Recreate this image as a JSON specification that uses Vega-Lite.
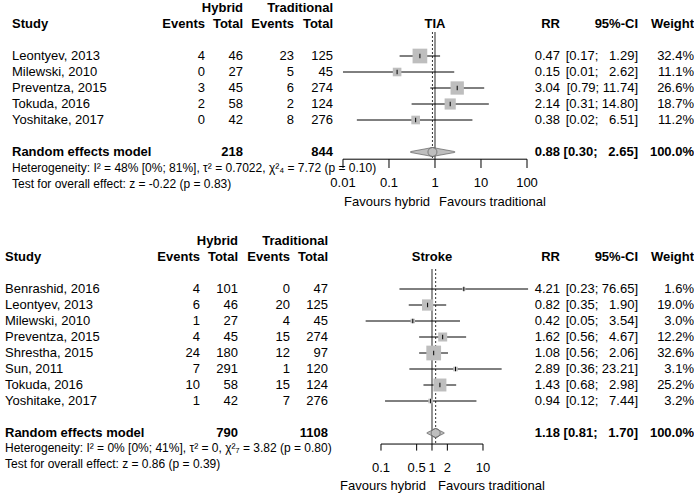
{
"$schema": "https://vega.github.io/schema/vega-lite/v6.json",
"padding": 0,
"background": "white",
"config": {"font": "Liberation Sans", "view": {"stroke": null}, "text": {"fontSize": 13, "color": "black"}, "axis": {"disable": true}, "point": {"opacity": 1}},
"datasets": {
 "tia": [
  {"study":"Leontyev, 2013","eh":4,"nh":46,"et":23,"nt":125,"rr":0.47,"lo":0.17,"hi":1.29,"ci":"[0.17; \u20071.29]","w":0.324,"line":3},
  {"study":"Milewski, 2010","eh":0,"nh":27,"et":5,"nt":45,"rr":0.15,"lo":0.01,"hi":2.62,"ci":"[0.01; \u20072.62]","w":0.111,"line":4},
  {"study":"Preventza, 2015","eh":3,"nh":45,"et":6,"nt":274,"rr":3.04,"lo":0.79,"hi":11.74,"ci":"[0.79; 11.74]","w":0.266,"line":5},
  {"study":"Tokuda, 2016","eh":2,"nh":58,"et":2,"nt":124,"rr":2.14,"lo":0.31,"hi":14.8,"ci":"[0.31; 14.80]","w":0.187,"line":6},
  {"study":"Yoshitake, 2017","eh":0,"nh":42,"et":8,"nt":276,"rr":0.38,"lo":0.02,"hi":6.51,"ci":"[0.02; \u20076.51]","w":0.112,"line":7}
 ],
 "tia_sum": [{"label":"Random effects model","nh":218,"nt":844,"rr":0.88,"lo":0.30,"hi":2.65,"ci":"[0.30; \u20072.65]","w":1,"line":9,"het":"Heterogeneity: I² = 48% [0%; 81%], τ² = 0.7022, χ²₄ = 7.72 (p = 0.10)","test":"Test for overall effect: z = -0.22 (p = 0.83)"}],
 "tia_ticks": [{"v":0.01,"label":"0.01"},{"v":0.1,"label":"0.1"},{"v":1,"label":"1"},{"v":10,"label":"10"},{"v":100,"label":"100"}],
 "st": [
  {"study":"Benrashid, 2016","eh":4,"nh":101,"et":0,"nt":47,"rr":4.21,"lo":0.23,"hi":76.65,"ci":"[0.23; 76.65]","w":0.016,"line":3},
  {"study":"Leontyev, 2013","eh":6,"nh":46,"et":20,"nt":125,"rr":0.82,"lo":0.35,"hi":1.90,"ci":"[0.35; \u20071.90]","w":0.190,"line":4},
  {"study":"Milewski, 2010","eh":1,"nh":27,"et":4,"nt":45,"rr":0.42,"lo":0.05,"hi":3.54,"ci":"[0.05; \u20073.54]","w":0.030,"line":5},
  {"study":"Preventza, 2015","eh":4,"nh":45,"et":15,"nt":274,"rr":1.62,"lo":0.56,"hi":4.67,"ci":"[0.56; \u20074.67]","w":0.122,"line":6},
  {"study":"Shrestha, 2015","eh":24,"nh":180,"et":12,"nt":97,"rr":1.08,"lo":0.56,"hi":2.06,"ci":"[0.56; \u20072.06]","w":0.326,"line":7},
  {"study":"Sun, 2011","eh":7,"nh":291,"et":1,"nt":120,"rr":2.89,"lo":0.36,"hi":23.21,"ci":"[0.36; 23.21]","w":0.031,"line":8},
  {"study":"Tokuda, 2016","eh":10,"nh":58,"et":15,"nt":124,"rr":1.43,"lo":0.68,"hi":2.98,"ci":"[0.68; \u20072.98]","w":0.252,"line":9},
  {"study":"Yoshitake, 2017","eh":1,"nh":42,"et":7,"nt":276,"rr":0.94,"lo":0.12,"hi":7.44,"ci":"[0.12; \u20077.44]","w":0.032,"line":10}
 ],
 "st_sum": [{"label":"Random effects model","nh":790,"nt":1108,"rr":1.18,"lo":0.81,"hi":1.70,"ci":"[0.81; \u20071.70]","w":1,"line":12,"het":"Heterogeneity: I² = 0% [0%; 41%], τ² = 0, χ²₇ = 3.82 (p = 0.80)","test":"Test for overall effect: z = 0.86 (p = 0.39)"}],
 "st_ticks": [{"v":0.1,"label":"0.1"},{"v":0.5,"label":"0.5"},{"v":1,"label":"1"},{"v":2,"label":"2"},{"v":10,"label":"10"}]
},
"spacing": 24,
"vconcat": [
 {"bounds": "flush", "spacing": 0, "hconcat": [
  {"width":170,"height":208,"layer":[
   {"data":{"name":"tia"},"mark":{"type":"text","align":"left","dx":12},"encoding":{"x":{"value":0},"y":{"field":"line","type":"quantitative","scale":{"domain":[-0.5,12.5],"reverse":true,"nice":false,"zero":false}},"text":{"field":"study"}}},
   {"data":{"name":"tia_sum"},"mark":{"type":"text","align":"left","dx":12,"fontWeight":"bold"},"encoding":{"x":{"value":0},"y":{"field":"line","type":"quantitative"},"text":{"field":"label"}}},
   {"data":{"name":"tia_sum"},"mark":{"type":"text","align":"left","dx":12,"fontWeight":"bold"},"encoding":{"x":{"value":0},"y":{"datum":1,"type":"quantitative"},"text":{"value":"Study"}}},
   {"data":{"name":"tia_sum"},"mark":{"type":"text","align":"left","dx":12,"fontSize":12},"encoding":{"x":{"value":0},"y":{"datum":10,"type":"quantitative"},"text":{"field":"het"}}},
   {"data":{"name":"tia_sum"},"mark":{"type":"text","align":"left","dx":12,"fontSize":12},"encoding":{"x":{"value":0},"y":{"datum":11,"type":"quantitative"},"text":{"field":"test"}}}
  ]},
  {"width":35,"height":208,"layer":[
   {"data":{"name":"tia"},"mark":{"type":"text","align":"right"},"encoding":{"x":{"value":"width"},"y":{"field":"line","type":"quantitative","scale":{"domain":[-0.5,12.5],"reverse":true,"nice":false,"zero":false}},"text":{"field":"eh"}}},
   {"data":{"name":"tia_sum"},"mark":{"type":"text","align":"right","fontWeight":"bold"},"encoding":{"x":{"value":"width"},"y":{"datum":1,"type":"quantitative"},"text":{"value":"Events"}}}
  ]},
  {"width":38,"height":208,"layer":[
   {"data":{"name":"tia"},"mark":{"type":"text","align":"right"},"encoding":{"x":{"value":"width"},"y":{"field":"line","type":"quantitative","scale":{"domain":[-0.5,12.5],"reverse":true,"nice":false,"zero":false}},"text":{"field":"nh"}}},
   {"data":{"name":"tia_sum"},"mark":{"type":"text","align":"right","fontWeight":"bold"},"encoding":{"x":{"value":"width"},"y":{"field":"line","type":"quantitative"},"text":{"field":"nh"}}},
   {"data":{"name":"tia_sum"},"mark":{"type":"text","align":"right","fontWeight":"bold"},"encoding":{"x":{"value":"width"},"y":{"datum":1,"type":"quantitative"},"text":{"value":"Total"}}},
   {"data":{"name":"tia_sum"},"mark":{"type":"text","align":"right","fontWeight":"bold"},"encoding":{"x":{"value":"width"},"y":{"datum":0,"type":"quantitative"},"text":{"value":"Hybrid"}}}
  ]},
  {"width":51,"height":208,"layer":[
   {"data":{"name":"tia"},"mark":{"type":"text","align":"right"},"encoding":{"x":{"value":"width"},"y":{"field":"line","type":"quantitative","scale":{"domain":[-0.5,12.5],"reverse":true,"nice":false,"zero":false}},"text":{"field":"et"}}},
   {"data":{"name":"tia_sum"},"mark":{"type":"text","align":"right","fontWeight":"bold"},"encoding":{"x":{"value":"width"},"y":{"datum":1,"type":"quantitative"},"text":{"value":"Events"}}}
  ]},
  {"width":39,"height":208,"layer":[
   {"data":{"name":"tia"},"mark":{"type":"text","align":"right"},"encoding":{"x":{"value":"width"},"y":{"field":"line","type":"quantitative","scale":{"domain":[-0.5,12.5],"reverse":true,"nice":false,"zero":false}},"text":{"field":"nt"}}},
   {"data":{"name":"tia_sum"},"mark":{"type":"text","align":"right","fontWeight":"bold"},"encoding":{"x":{"value":"width"},"y":{"field":"line","type":"quantitative"},"text":{"field":"nt"}}},
   {"data":{"name":"tia_sum"},"mark":{"type":"text","align":"right","fontWeight":"bold"},"encoding":{"x":{"value":"width"},"y":{"datum":1,"type":"quantitative"},"text":{"value":"Total"}}},
   {"data":{"name":"tia_sum"},"mark":{"type":"text","align":"right","fontWeight":"bold"},"encoding":{"x":{"value":"width"},"y":{"datum":0,"type":"quantitative"},"text":{"value":"Traditional"}}}
  ]},
  {"width":197,"height":208,"layer":[
   {"data":{"name":"tia_sum"},"mark":{"type":"rule","color":"#707070","strokeWidth":1.5},"encoding":{"x":{"datum":1,"type":"quantitative","scale":{"type":"log","domain":[0.006063,116.2],"nice":false}},"y":{"datum":1.5,"type":"quantitative","scale":{"domain":[-0.5,12.5],"reverse":true,"nice":false,"zero":false}},"y2":{"datum":9.45}}},
   {"data":{"name":"tia_sum"},"mark":{"type":"rule","color":"#333333","strokeWidth":1,"strokeDash":[2,2]},"encoding":{"x":{"field":"rr","type":"quantitative"},"y":{"datum":1.5,"type":"quantitative"},"y2":{"datum":9.45}}},
   {"data":{"name":"tia"},"mark":{"type":"rule","color":"black","strokeWidth":1},"encoding":{"x":{"field":"lo","type":"quantitative"},"x2":{"field":"hi"},"y":{"field":"line","type":"quantitative"}}},
   {"data":{"name":"tia"},"mark":{"type":"point","shape":"square","filled":true,"color":"#bebebe","opacity":1},"encoding":{"x":{"field":"rr","type":"quantitative"},"y":{"field":"line","type":"quantitative"},"size":{"field":"w","type":"quantitative","scale":{"domain":[0,0.33],"range":[0,220]},"legend":null}}},
   {"data":{"name":"tia"},"mark":{"type":"point","shape":"M0,-1L0,1","filled":false,"color":"black","strokeWidth":1,"size":20,"opacity":1},"encoding":{"x":{"field":"rr","type":"quantitative"},"y":{"field":"line","type":"quantitative"}}},
   {"data":{"name":"tia_sum"},"transform":[{"fold":["lo","rr","hi"],"as":["k","v"]}],"mark":{"type":"trail","fill":"#bebebe","stroke":"#606060","strokeWidth":0.7},"encoding":{"x":{"field":"v","type":"quantitative"},"y":{"field":"line","type":"quantitative"},"order":{"field":"v","type":"quantitative"},"size":{"condition":{"test":"datum.k === 'rr'","value":9},"value":0}}},
   {"data":{"name":"tia_sum"},"mark":{"type":"rule","color":"black","strokeWidth":1},"encoding":{"x":{"datum":0.01,"type":"quantitative"},"x2":{"datum":100},"y":{"datum":9.45,"type":"quantitative"}}},
   {"data":{"name":"tia_ticks"},"mark":{"type":"rule","color":"black","strokeWidth":1},"encoding":{"x":{"field":"v","type":"quantitative"},"y":{"datum":9.45,"type":"quantitative"},"y2":{"datum":10}}},
   {"data":{"name":"tia_ticks"},"mark":{"type":"text"},"encoding":{"x":{"field":"v","type":"quantitative"},"y":{"datum":10.95,"type":"quantitative"},"text":{"field":"label"}}},
   {"data":{"name":"tia_sum"},"mark":{"type":"text","fontWeight":"bold"},"encoding":{"x":{"datum":1,"type":"quantitative"},"y":{"datum":1,"type":"quantitative"},"text":{"value":"TIA"}}},
   {"data":{"name":"tia_sum"},"mark":{"type":"text","align":"right","dx":-5},"encoding":{"x":{"datum":1,"type":"quantitative"},"y":{"datum":12.1,"type":"quantitative"},"text":{"value":"Favours hybrid"}}},
   {"data":{"name":"tia_sum"},"mark":{"type":"text","align":"left","dx":4},"encoding":{"x":{"datum":1,"type":"quantitative"},"y":{"datum":12.1,"type":"quantitative"},"text":{"value":"Favours traditional"}}}
  ]},
  {"width":30,"height":208,"layer":[
   {"data":{"name":"tia"},"mark":{"type":"text","align":"right"},"encoding":{"x":{"value":"width"},"y":{"field":"line","type":"quantitative","scale":{"domain":[-0.5,12.5],"reverse":true,"nice":false,"zero":false}},"text":{"field":"rr","format":".2f"}}},
   {"data":{"name":"tia_sum"},"mark":{"type":"text","align":"right","fontWeight":"bold"},"encoding":{"x":{"value":"width"},"y":{"field":"line","type":"quantitative"},"text":{"field":"rr","format":".2f"}}},
   {"data":{"name":"tia_sum"},"mark":{"type":"text","align":"right","fontWeight":"bold"},"encoding":{"x":{"value":"width"},"y":{"datum":1,"type":"quantitative"},"text":{"value":"RR"}}}
  ]},
  {"width":78,"height":208,"layer":[
   {"data":{"name":"tia"},"mark":{"type":"text","align":"right"},"encoding":{"x":{"value":"width"},"y":{"field":"line","type":"quantitative","scale":{"domain":[-0.5,12.5],"reverse":true,"nice":false,"zero":false}},"text":{"field":"ci"}}},
   {"data":{"name":"tia_sum"},"mark":{"type":"text","align":"right","fontWeight":"bold"},"encoding":{"x":{"value":"width"},"y":{"field":"line","type":"quantitative"},"text":{"field":"ci"}}},
   {"data":{"name":"tia_sum"},"mark":{"type":"text","align":"right","fontWeight":"bold"},"encoding":{"x":{"value":"width"},"y":{"datum":1,"type":"quantitative"},"text":{"value":"95%-CI"}}}
  ]},
  {"width":56,"height":208,"layer":[
   {"data":{"name":"tia"},"mark":{"type":"text","align":"right"},"encoding":{"x":{"value":"width"},"y":{"field":"line","type":"quantitative","scale":{"domain":[-0.5,12.5],"reverse":true,"nice":false,"zero":false}},"text":{"field":"w","format":".1%"}}},
   {"data":{"name":"tia_sum"},"mark":{"type":"text","align":"right","fontWeight":"bold"},"encoding":{"x":{"value":"width"},"y":{"field":"line","type":"quantitative"},"text":{"field":"w","format":".1%"}}},
   {"data":{"name":"tia_sum"},"mark":{"type":"text","align":"right","fontWeight":"bold"},"encoding":{"x":{"value":"width"},"y":{"datum":1,"type":"quantitative"},"text":{"value":"Weight"}}}
  ]}
 ]},
 {"bounds": "flush", "spacing": 0, "hconcat": [
  {"width":165,"height":256,"layer":[
   {"data":{"name":"st"},"mark":{"type":"text","align":"left","dx":5},"encoding":{"x":{"value":0},"y":{"field":"line","type":"quantitative","scale":{"domain":[-0.5,15.5],"reverse":true,"nice":false,"zero":false}},"text":{"field":"study"}}},
   {"data":{"name":"st_sum"},"mark":{"type":"text","align":"left","dx":5,"fontWeight":"bold"},"encoding":{"x":{"value":0},"y":{"field":"line","type":"quantitative"},"text":{"field":"label"}}},
   {"data":{"name":"st_sum"},"mark":{"type":"text","align":"left","dx":5,"fontWeight":"bold"},"encoding":{"x":{"value":0},"y":{"datum":1,"type":"quantitative"},"text":{"value":"Study"}}},
   {"data":{"name":"st_sum"},"mark":{"type":"text","align":"left","dx":5,"fontSize":12},"encoding":{"x":{"value":0},"y":{"datum":12.95,"type":"quantitative"},"text":{"field":"het"}}},
   {"data":{"name":"st_sum"},"mark":{"type":"text","align":"left","dx":5,"fontSize":12},"encoding":{"x":{"value":0},"y":{"datum":13.95,"type":"quantitative"},"text":{"field":"test"}}}
  ]},
  {"width":35,"height":256,"layer":[
   {"data":{"name":"st"},"mark":{"type":"text","align":"right"},"encoding":{"x":{"value":"width"},"y":{"field":"line","type":"quantitative","scale":{"domain":[-0.5,15.5],"reverse":true,"nice":false,"zero":false}},"text":{"field":"eh"}}},
   {"data":{"name":"st_sum"},"mark":{"type":"text","align":"right","fontWeight":"bold"},"encoding":{"x":{"value":"width"},"y":{"datum":1,"type":"quantitative"},"text":{"value":"Events"}}}
  ]},
  {"width":38,"height":256,"layer":[
   {"data":{"name":"st"},"mark":{"type":"text","align":"right"},"encoding":{"x":{"value":"width"},"y":{"field":"line","type":"quantitative","scale":{"domain":[-0.5,15.5],"reverse":true,"nice":false,"zero":false}},"text":{"field":"nh"}}},
   {"data":{"name":"st_sum"},"mark":{"type":"text","align":"right","fontWeight":"bold"},"encoding":{"x":{"value":"width"},"y":{"field":"line","type":"quantitative"},"text":{"field":"nh"}}},
   {"data":{"name":"st_sum"},"mark":{"type":"text","align":"right","fontWeight":"bold"},"encoding":{"x":{"value":"width"},"y":{"datum":1,"type":"quantitative"},"text":{"value":"Total"}}},
   {"data":{"name":"st_sum"},"mark":{"type":"text","align":"right","fontWeight":"bold"},"encoding":{"x":{"value":"width"},"y":{"datum":0,"type":"quantitative"},"text":{"value":"Hybrid"}}}
  ]},
  {"width":52,"height":256,"layer":[
   {"data":{"name":"st"},"mark":{"type":"text","align":"right"},"encoding":{"x":{"value":"width"},"y":{"field":"line","type":"quantitative","scale":{"domain":[-0.5,15.5],"reverse":true,"nice":false,"zero":false}},"text":{"field":"et"}}},
   {"data":{"name":"st_sum"},"mark":{"type":"text","align":"right","fontWeight":"bold"},"encoding":{"x":{"value":"width"},"y":{"datum":1,"type":"quantitative"},"text":{"value":"Events"}}}
  ]},
  {"width":38,"height":256,"layer":[
   {"data":{"name":"st"},"mark":{"type":"text","align":"right"},"encoding":{"x":{"value":"width"},"y":{"field":"line","type":"quantitative","scale":{"domain":[-0.5,15.5],"reverse":true,"nice":false,"zero":false}},"text":{"field":"nt"}}},
   {"data":{"name":"st_sum"},"mark":{"type":"text","align":"right","fontWeight":"bold"},"encoding":{"x":{"value":"width"},"y":{"field":"line","type":"quantitative"},"text":{"field":"nt"}}},
   {"data":{"name":"st_sum"},"mark":{"type":"text","align":"right","fontWeight":"bold"},"encoding":{"x":{"value":"width"},"y":{"datum":1,"type":"quantitative"},"text":{"value":"Total"}}},
   {"data":{"name":"st_sum"},"mark":{"type":"text","align":"right","fontWeight":"bold"},"encoding":{"x":{"value":"width"},"y":{"datum":0,"type":"quantitative"},"text":{"value":"Traditional"}}}
  ]},
  {"width":202,"height":256,"layer":[
   {"data":{"name":"st_sum"},"mark":{"type":"rule","color":"#707070","strokeWidth":1.5},"encoding":{"x":{"datum":1,"type":"quantitative","scale":{"type":"log","domain":[0.009136,83.5],"nice":false}},"y":{"datum":1.75,"type":"quantitative","scale":{"domain":[-0.5,15.5],"reverse":true,"nice":false,"zero":false}},"y2":{"datum":12.69}}},
   {"data":{"name":"st_sum"},"mark":{"type":"rule","color":"#333333","strokeWidth":1,"strokeDash":[2,2]},"encoding":{"x":{"field":"rr","type":"quantitative"},"y":{"datum":1.75,"type":"quantitative"},"y2":{"datum":12.69}}},
   {"data":{"name":"st"},"mark":{"type":"rule","color":"black","strokeWidth":1},"encoding":{"x":{"field":"lo","type":"quantitative"},"x2":{"field":"hi"},"y":{"field":"line","type":"quantitative"}}},
   {"data":{"name":"st"},"mark":{"type":"point","shape":"square","filled":true,"color":"#bebebe","opacity":1},"encoding":{"x":{"field":"rr","type":"quantitative"},"y":{"field":"line","type":"quantitative"},"size":{"field":"w","type":"quantitative","scale":{"domain":[0,0.33],"range":[0,220]},"legend":null}}},
   {"data":{"name":"st"},"mark":{"type":"point","shape":"M0,-1L0,1","filled":false,"color":"black","strokeWidth":1,"size":20,"opacity":1},"encoding":{"x":{"field":"rr","type":"quantitative"},"y":{"field":"line","type":"quantitative"}}},
   {"data":{"name":"st_sum"},"transform":[{"fold":["lo","rr","hi"],"as":["k","v"]}],"mark":{"type":"trail","fill":"#bebebe","stroke":"#606060","strokeWidth":0.7},"encoding":{"x":{"field":"v","type":"quantitative"},"y":{"field":"line","type":"quantitative"},"order":{"field":"v","type":"quantitative"},"size":{"condition":{"test":"datum.k === 'rr'","value":9},"value":0}}},
   {"data":{"name":"st_sum"},"mark":{"type":"rule","color":"black","strokeWidth":1},"encoding":{"x":{"datum":0.1,"type":"quantitative"},"x2":{"datum":10},"y":{"datum":12.69,"type":"quantitative"}}},
   {"data":{"name":"st_ticks"},"mark":{"type":"rule","color":"black","strokeWidth":1},"encoding":{"x":{"field":"v","type":"quantitative"},"y":{"datum":12.69,"type":"quantitative"},"y2":{"datum":13.1}}},
   {"data":{"name":"st_ticks"},"mark":{"type":"text"},"encoding":{"x":{"field":"v","type":"quantitative"},"y":{"datum":14.2,"type":"quantitative"},"text":{"field":"label"}}},
   {"data":{"name":"st_sum"},"mark":{"type":"text","fontWeight":"bold"},"encoding":{"x":{"datum":1,"type":"quantitative"},"y":{"datum":1,"type":"quantitative"},"text":{"value":"Stroke"}}},
   {"data":{"name":"st_sum"},"mark":{"type":"text","align":"right","dx":-6},"encoding":{"x":{"datum":1,"type":"quantitative"},"y":{"datum":15.3,"type":"quantitative"},"text":{"value":"Favours hybrid"}}},
   {"data":{"name":"st_sum"},"mark":{"type":"text","align":"left","dx":6},"encoding":{"x":{"datum":1,"type":"quantitative"},"y":{"datum":15.3,"type":"quantitative"},"text":{"value":"Favours traditional"}}}
  ]},
  {"width":30,"height":256,"layer":[
   {"data":{"name":"st"},"mark":{"type":"text","align":"right"},"encoding":{"x":{"value":"width"},"y":{"field":"line","type":"quantitative","scale":{"domain":[-0.5,15.5],"reverse":true,"nice":false,"zero":false}},"text":{"field":"rr","format":".2f"}}},
   {"data":{"name":"st_sum"},"mark":{"type":"text","align":"right","fontWeight":"bold"},"encoding":{"x":{"value":"width"},"y":{"field":"line","type":"quantitative"},"text":{"field":"rr","format":".2f"}}},
   {"data":{"name":"st_sum"},"mark":{"type":"text","align":"right","fontWeight":"bold"},"encoding":{"x":{"value":"width"},"y":{"datum":1,"type":"quantitative"},"text":{"value":"RR"}}}
  ]},
  {"width":78,"height":256,"layer":[
   {"data":{"name":"st"},"mark":{"type":"text","align":"right"},"encoding":{"x":{"value":"width"},"y":{"field":"line","type":"quantitative","scale":{"domain":[-0.5,15.5],"reverse":true,"nice":false,"zero":false}},"text":{"field":"ci"}}},
   {"data":{"name":"st_sum"},"mark":{"type":"text","align":"right","fontWeight":"bold"},"encoding":{"x":{"value":"width"},"y":{"field":"line","type":"quantitative"},"text":{"field":"ci"}}},
   {"data":{"name":"st_sum"},"mark":{"type":"text","align":"right","fontWeight":"bold"},"encoding":{"x":{"value":"width"},"y":{"datum":1,"type":"quantitative"},"text":{"value":"95%-CI"}}}
  ]},
  {"width":56,"height":256,"layer":[
   {"data":{"name":"st"},"mark":{"type":"text","align":"right"},"encoding":{"x":{"value":"width"},"y":{"field":"line","type":"quantitative","scale":{"domain":[-0.5,15.5],"reverse":true,"nice":false,"zero":false}},"text":{"field":"w","format":".1%"}}},
   {"data":{"name":"st_sum"},"mark":{"type":"text","align":"right","fontWeight":"bold"},"encoding":{"x":{"value":"width"},"y":{"field":"line","type":"quantitative"},"text":{"field":"w","format":".1%"}}},
   {"data":{"name":"st_sum"},"mark":{"type":"text","align":"right","fontWeight":"bold"},"encoding":{"x":{"value":"width"},"y":{"datum":1,"type":"quantitative"},"text":{"value":"Weight"}}}
  ]}
 ]}
]
}
